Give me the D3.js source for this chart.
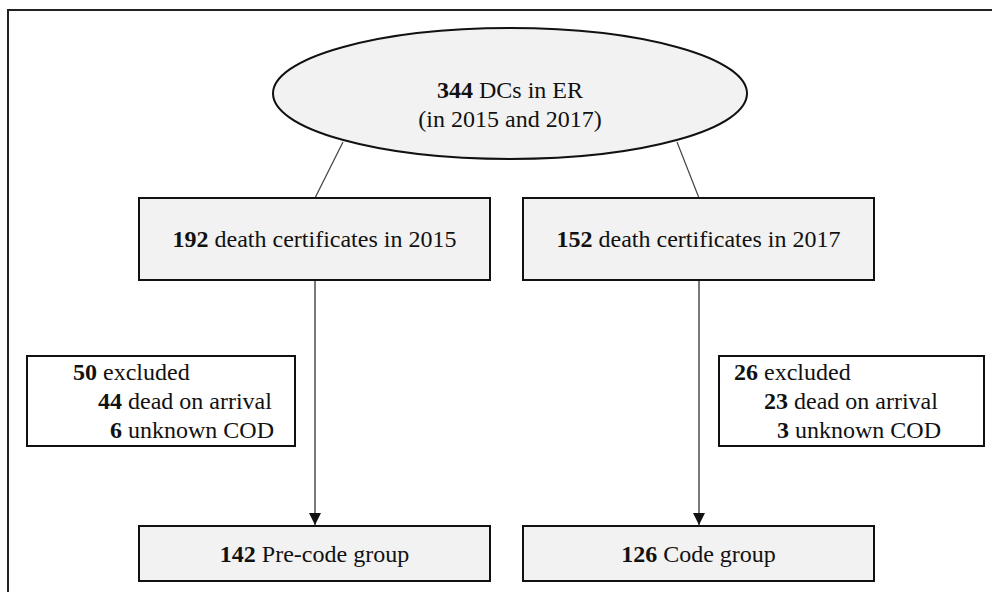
<!DOCTYPE html>
<html>
<head>
<meta charset="utf-8">
<script src="https://cdn.jsdelivr.net/npm/d3@7"></script>
<style>
  body { margin: 0; background: #fff; }
  svg text { font-family: "Liberation Serif", "Times New Roman", serif; font-size: 24px; fill: #111; }
</style>
</head>
<body>
<div class="area"></div>
<script>
var totalCount = 344,
    totalLabel = ["DCs in ER", "(in 2015 and 2017)"];
var years = ["2015", "2017"];
var yearCounts = [192, 152];
var excludedTotal = [50, 26];
var deadOnArrival = [44, 23];
var unknownCOD = [6, 3];
var groupCounts = [142, 126];
var groupLabels = ["Pre-code group", "Code group"];

var width = 992, height = 592;

var svg = d3.select(".area")
  .append("svg")
    .attr("width", width)
    .attr("height", height);

// column centres for the two years
var col = d3.scaleOrdinal().domain(years).range([314, 698]);
var boxW = 351;

// frame (top and left edge only, as in the cropped figure)
svg.append("path")
  .attr("d", "M8,592 L8,10 L992,10")
  .attr("fill", "none")
  .attr("stroke", "#222")
  .attr("stroke-width", 2);

var defs = svg.append("defs");
defs.append("marker")
  .attr("id", "arrow")
  .attr("viewBox", "0 0 12 12")
  .attr("refX", 12).attr("refY", 6)
  .attr("markerWidth", 12).attr("markerHeight", 12)
  .attr("markerUnits", "userSpaceOnUse")
  .attr("orient", "auto")
  .append("path")
    .attr("d", "M0,0 L12,6 L0,12 Z")
    .attr("fill", "#111");

// connector lines ellipse -> year boxes
var topLinks = [[343, 142, 315, 198], [677, 142, 699, 198]];
svg.selectAll(".link")
  .data(topLinks)
  .enter().append("line")
    .attr("x1", d => d[0]).attr("y1", d => d[1])
    .attr("x2", d => d[2]).attr("y2", d => d[3])
    .attr("stroke", "#444")
    .attr("stroke-width", 1.2);

// top ellipse
svg.append("ellipse")
  .attr("cx", 510).attr("cy", 93.5)
  .attr("rx", 237).attr("ry", 65.5)
  .attr("fill", "#f2f2f2")
  .attr("stroke", "#111")
  .attr("stroke-width", 2);

var t1 = svg.append("text").attr("x", 510).attr("y", 98).attr("text-anchor", "middle");
t1.append("tspan").attr("font-weight", "bold").text(totalCount);
t1.append("tspan").text(" " + totalLabel[0]);
svg.append("text").attr("x", 510).attr("y", 127).attr("text-anchor", "middle").text(totalLabel[1]);

// vertical arrows year box -> group box
svg.selectAll(".arrow")
  .data(years)
  .enter().append("line")
    .attr("x1", d => col(d) + 1).attr("y1", 280)
    .attr("x2", d => col(d) + 1).attr("y2", 525)
    .attr("stroke", "#333")
    .attr("stroke-width", 1.3)
    .attr("marker-end", "url(#arrow)");

// year boxes
var yearG = svg.selectAll(".year")
  .data(years)
  .enter().append("g");
yearG.append("rect")
  .attr("x", d => col(d) - boxW / 2 + 0.5)
  .attr("y", 198)
  .attr("width", boxW).attr("height", 82)
  .attr("fill", "#f2f2f2")
  .attr("stroke", "#111")
  .attr("stroke-width", 2);
var yt = yearG.append("text")
  .attr("x", d => col(d) + 0.5).attr("y", 247)
  .attr("text-anchor", "middle");
yt.append("tspan").attr("font-weight", "bold").text((d, i) => yearCounts[i]);
yt.append("tspan").text(d => " death certificates in " + d);

// exclusion boxes
var exBox = [{x: 27, w: 268, lx: [73, 98, 110]}, {x: 719, w: 265, lx: [734, 764, 777]}];
var exG = svg.selectAll(".excl")
  .data(years)
  .enter().append("g");
exG.append("rect")
  .attr("x", (d, i) => exBox[i].x)
  .attr("y", 356)
  .attr("width", (d, i) => exBox[i].w).attr("height", 90)
  .attr("fill", "#fff")
  .attr("stroke", "#111")
  .attr("stroke-width", 2);
exG.each(function(d, i) {
  var g = d3.select(this);
  var rows = [[excludedTotal[i], " excluded"],
              [deadOnArrival[i], " dead on arrival"],
              [unknownCOD[i], " unknown COD"]];
  rows.forEach(function(r, j) {
    var t = g.append("text").attr("x", exBox[i].lx[j]).attr("y", 380 + j * 29);
    t.append("tspan").attr("font-weight", "bold").text(r[0]);
    t.append("tspan").text(r[1]);
  });
});

// group boxes
var grpG = svg.selectAll(".grp")
  .data(years)
  .enter().append("g");
grpG.append("rect")
  .attr("x", d => col(d) - boxW / 2 + 0.5)
  .attr("y", 526)
  .attr("width", boxW).attr("height", 55)
  .attr("fill", "#f2f2f2")
  .attr("stroke", "#111")
  .attr("stroke-width", 2);
var gt = grpG.append("text")
  .attr("x", d => col(d) + 0.5).attr("y", 562)
  .attr("text-anchor", "middle");
gt.append("tspan").attr("font-weight", "bold").text((d, i) => groupCounts[i]);
gt.append("tspan").text((d, i) => " " + groupLabels[i]);
</script>
</body>
</html>
